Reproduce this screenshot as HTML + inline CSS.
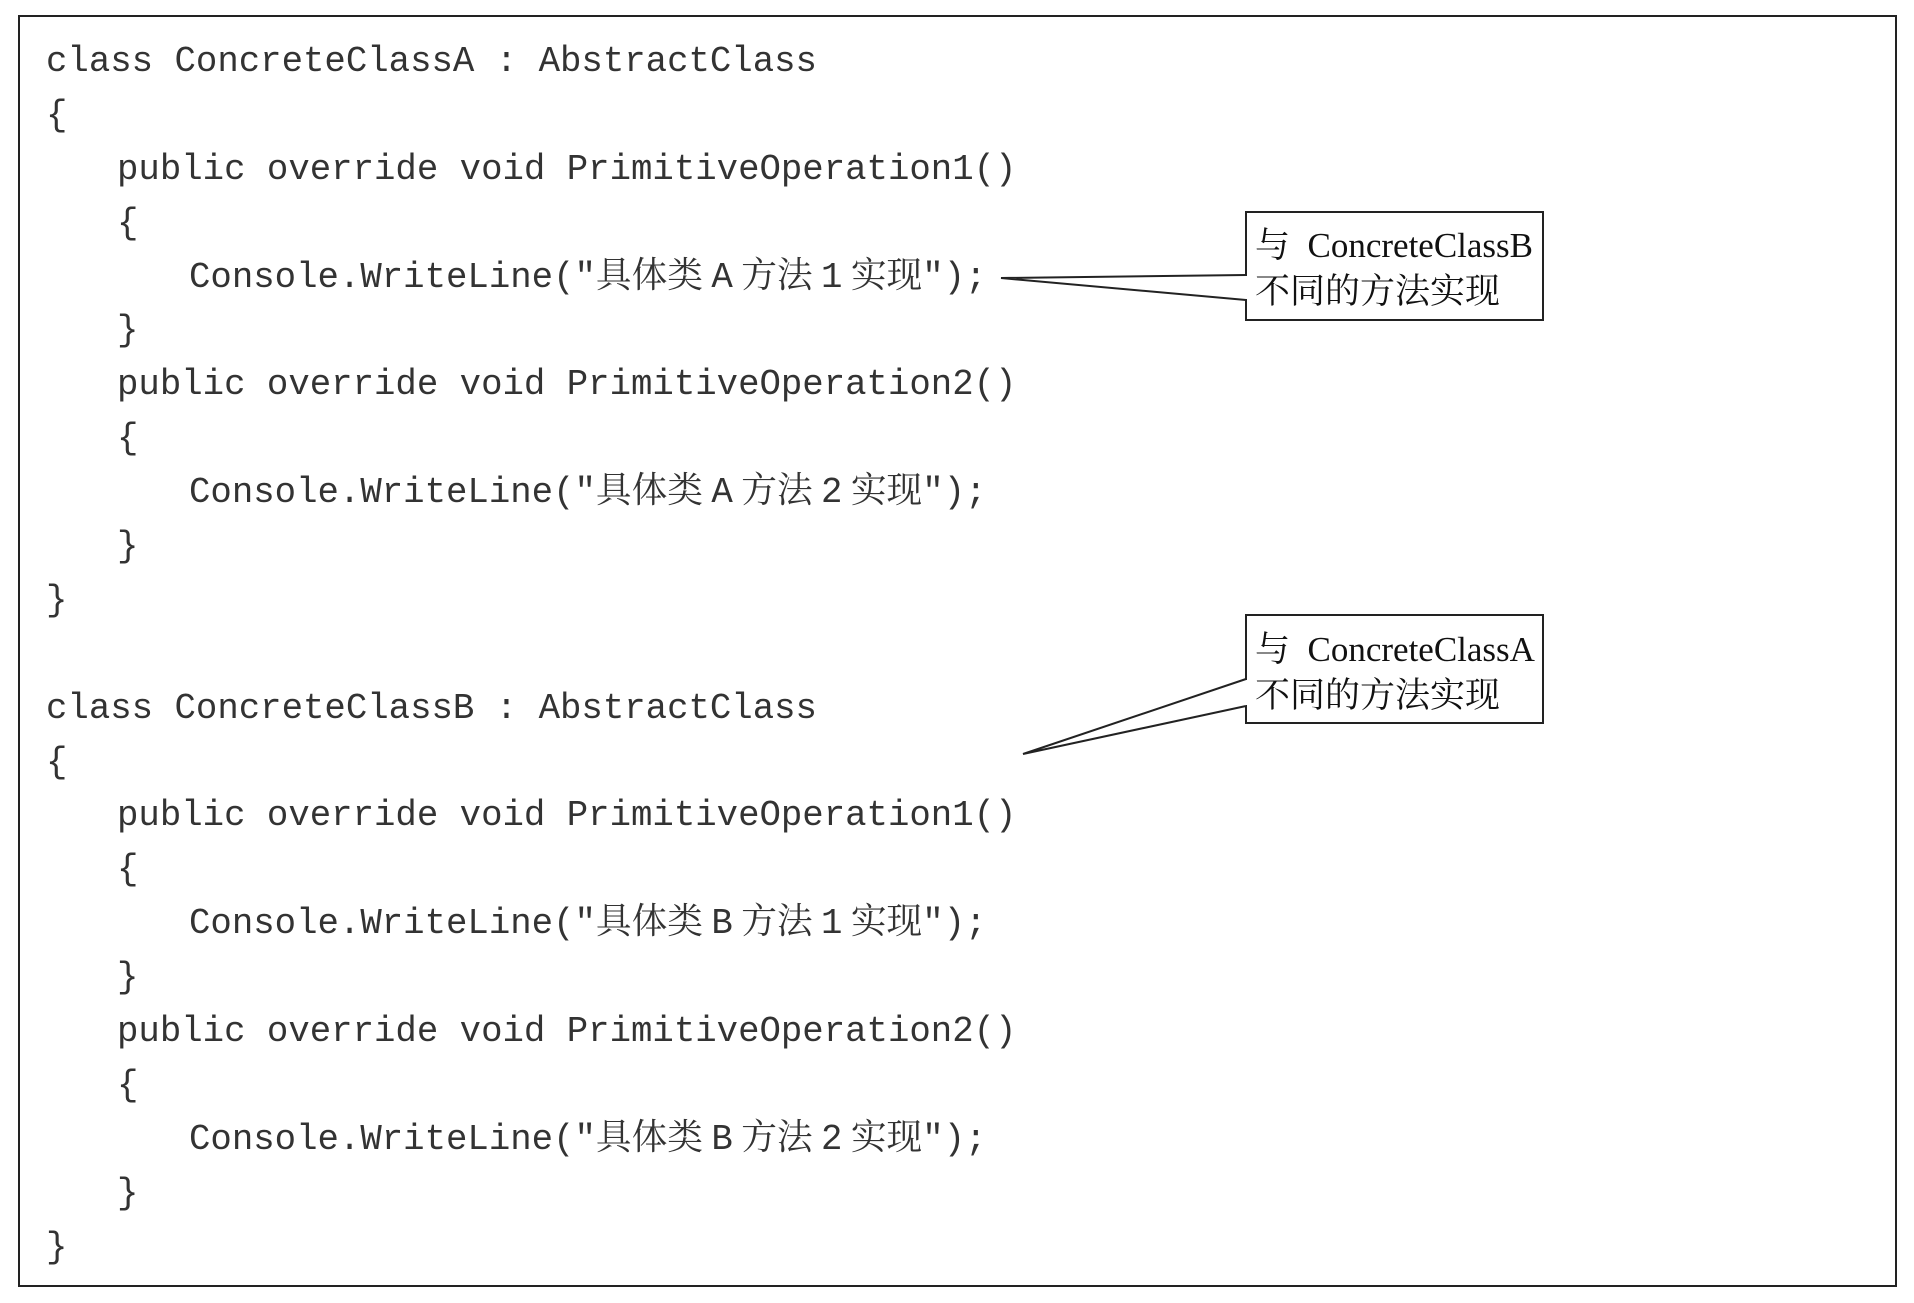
<!DOCTYPE html>
<html><head><meta charset="utf-8"><style>
body{margin:0;width:1914px;height:1303px;background:#fff;position:relative;overflow:hidden}
.code{position:absolute;left:46px;top:35px;font-family:"Liberation Mono","Noto Serif CJK SC",monospace;font-size:35.7px;line-height:53.9px;color:#333;white-space:normal;margin:0}
.code div{height:53.9px;white-space:pre}
.i1{padding-left:71px}
.i2{padding-left:143px}
.s{letter-spacing:-13px}
.note{position:absolute;font-family:"Liberation Serif","Noto Serif CJK SC",serif;font-size:35px;line-height:46px;color:#111;white-space:pre}
</style></head><body>
<svg width="1914" height="1303" style="position:absolute;left:0;top:0">
<rect x="19" y="16" width="1877" height="1270" fill="none" stroke="#222" stroke-width="2"/>
<rect x="1246" y="212" width="297" height="108" fill="none" stroke="#222" stroke-width="2"/>
<polygon points="1001,278 1246,275 1246,300" fill="#fff"/>
<rect x="1244" y="276" width="4" height="23" fill="#fff"/>
<polyline points="1246,275 1001,278 1246,300" fill="none" stroke="#222" stroke-width="2"/>
<rect x="1246" y="615" width="297" height="108" fill="none" stroke="#222" stroke-width="2"/>
<polygon points="1023,754 1246,679 1246,706" fill="#fff"/>
<rect x="1244" y="680" width="4" height="25" fill="#fff"/>
<polyline points="1246,679 1023,754 1246,706" fill="none" stroke="#222" stroke-width="2"/>
</svg>
<div class="code"><div>class ConcreteClassA : AbstractClass</div><div>{</div><div class="i1">public override void PrimitiveOperation1()</div><div class="i1">{</div><div class="i2">Console.WriteLine("具体类<span class="s"> </span>A<span class="s"> </span>方法<span class="s"> </span>1<span class="s"> </span>实现");</div><div class="i1">}</div><div class="i1">public override void PrimitiveOperation2()</div><div class="i1">{</div><div class="i2">Console.WriteLine("具体类<span class="s"> </span>A<span class="s"> </span>方法<span class="s"> </span>2<span class="s"> </span>实现");</div><div class="i1">}</div><div>}</div><div></div><div>class ConcreteClassB : AbstractClass</div><div>{</div><div class="i1">public override void PrimitiveOperation1()</div><div class="i1">{</div><div class="i2">Console.WriteLine("具体类<span class="s"> </span>B<span class="s"> </span>方法<span class="s"> </span>1<span class="s"> </span>实现");</div><div class="i1">}</div><div class="i1">public override void PrimitiveOperation2()</div><div class="i1">{</div><div class="i2">Console.WriteLine("具体类<span class="s"> </span>B<span class="s"> </span>方法<span class="s"> </span>2<span class="s"> </span>实现");</div><div class="i1">}</div><div>}</div></div>
<div class="note" style="left:1255px;top:223px">与  ConcreteClassB
不同的方法实现</div>
<div class="note" style="left:1255px;top:627px">与  ConcreteClassA
不同的方法实现</div>
</body></html>
